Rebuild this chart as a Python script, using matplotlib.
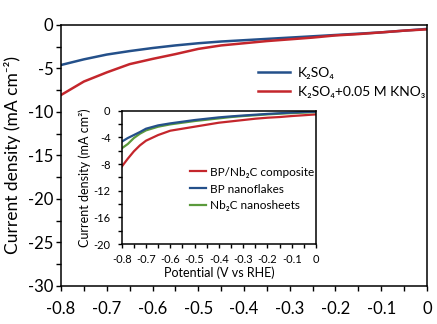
import numpy as np
import matplotlib
matplotlib.use("Agg")
from matplotlib import pyplot as plt
from matplotlib.ticker import MultipleLocator

plt.rcParams['font.family'] = ['Lato', 'DejaVu Sans']

# main panel: LSV curves
pot_main = [-0.8, -0.75, -0.7, -0.65, -0.6, -0.55, -0.5, -0.45, -0.4,
            -0.35, -0.3, -0.25, -0.2, -0.15, -0.1, -0.05, 0.0]
j_k2so4 = [-4.6, -3.95, -3.4, -3.0, -2.65, -2.35, -2.1, -1.9, -1.75,
           -1.6, -1.45, -1.3, -1.15, -1.0, -0.85, -0.65, -0.45]
j_kno3 = [-8.05, -6.5, -5.45, -4.5, -3.9, -3.35, -2.75, -2.35, -2.1,
          -1.85, -1.65, -1.45, -1.2, -1.05, -0.85, -0.65, -0.5]

# inset: different catalysts
pot_ins = [-0.8, -0.775, -0.75, -0.725, -0.7, -0.65, -0.6, -0.55, -0.5, -0.45,
           -0.4, -0.35, -0.3, -0.25, -0.2, -0.15, -0.1, -0.05, 0.0]
j_bp_nb2c = [-8.4, -7.2, -6.1, -5.2, -4.5, -3.65, -3.0, -2.7, -2.4, -2.1,
             -1.8, -1.6, -1.4, -1.2, -1.05, -0.95, -0.8, -0.68, -0.55]
j_bp = [-4.65, -4.1, -3.65, -3.2, -2.7, -2.2, -1.9, -1.65, -1.4, -1.2,
        -1.0, -0.85, -0.72, -0.6, -0.48, -0.38, -0.28, -0.2, -0.15]
j_nb2c = [-5.65, -5.0, -4.1, -3.45, -2.95, -2.4, -2.05, -1.8, -1.55, -1.35,
          -1.15, -0.95, -0.8, -0.68, -0.55, -0.45, -0.36, -0.28, -0.2]

xticks = [-0.8, -0.7, -0.6, -0.5, -0.4, -0.3, -0.2, -0.1, 0.0]
xtick_labels = ['-0.8', '-0.7', '-0.6', '-0.5', '-0.4', '-0.3', '-0.2', '-0.1', '0']
yticks_main = [0, -5, -10, -15, -20, -25, -30]
ytick_labels_main = ['0', '-5', '-10', '-15', '-20', '-25', '-30']
yticks_ins = [0, -4, -8, -12, -16, -20]
ytick_labels_ins = ['0', '-4', '-8', '-12', '-16', '-20']

blue = '#24508a'
red = '#c4262c'
green = '#5b9a3c'

fig = plt.figure(figsize=(4.37, 3.24), dpi=100)
ax = fig.add_axes([0.1396, 0.1173, 0.8375, 0.8056])

ax.plot(pot_main, j_k2so4, color=blue, lw=1.8, label='K₂SO₄')
ax.plot(pot_main, j_kno3, color=red, lw=1.8, label='K₂SO₄+0.05 M KNO₃')
ax.set_xlim(-0.8, 0)
ax.set_ylim(-30, 0)
ax.set_xticks(xticks)
ax.set_xticklabels(xtick_labels)
ax.set_yticks(yticks_main)
ax.set_yticklabels(ytick_labels_main)
ax.xaxis.set_minor_locator(MultipleLocator(0.05))
ax.yaxis.set_minor_locator(MultipleLocator(2.5))
ax.tick_params(which='both', direction='out', length=3.5, width=1, labelsize=12)
ax.tick_params(axis='x', which='major', pad=7)
ax.tick_params(axis='y', which='major', pad=2)
for s in ax.spines.values():
    s.set_linewidth(1.1)
ax.set_ylabel('Current density (mA cm⁻²)', fontsize=12.5, labelpad=5)
ax.legend(loc='center left', bbox_to_anchor=(0.538, 0.78), frameon=False,
          fontsize=10, borderpad=0, borderaxespad=0, handlelength=2.3,
          handletextpad=0.6, labelspacing=0.5)

# inset
ins = fig.add_axes([0.2785, 0.2469, 0.4446, 0.4114])
l1, = ins.plot(pot_ins, j_bp_nb2c, color=red, lw=1.6, label='BP/Nb₂C composite')
l3, = ins.plot(pot_ins, j_nb2c, color=green, lw=1.6, label='Nb₂C nanosheets')
l2, = ins.plot(pot_ins, j_bp, color=blue, lw=1.6, label='BP nanoflakes')
ins.set_xlim(-0.8, 0)
ins.set_ylim(-20, 0)
ins.set_xticks(xticks)
ins.set_xticklabels(xtick_labels)
ins.set_yticks(yticks_ins)
ins.set_yticklabels(ytick_labels_ins)
ins.xaxis.set_minor_locator(MultipleLocator(0.05))
ins.yaxis.set_minor_locator(MultipleLocator(2))
ins.tick_params(which='both', direction='out', length=3, width=1, labelsize=8)
ins.tick_params(axis='x', which='major', pad=4)
ins.tick_params(axis='y', which='major', pad=5)
for s in ins.spines.values():
    s.set_linewidth(1.1)
ins.set_xlabel('Potential (V vs RHE)', fontsize=9, labelpad=1)
ins.set_ylabel('Current density (mA cm²)', fontsize=9, labelpad=2)
ins.legend(handles=[l1, l2, l3], loc='center left', bbox_to_anchor=(0.352, 0.4125),
           frameon=False, fontsize=8.5, borderpad=0, borderaxespad=0,
           handlelength=1.35, handletextpad=0.3, labelspacing=0.5)

fig.savefig('out.png', dpi=100)
